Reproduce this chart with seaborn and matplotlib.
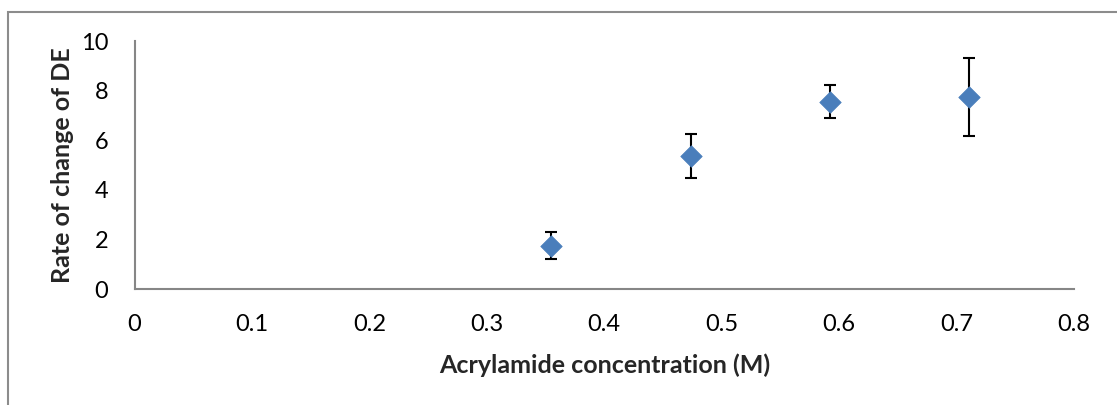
import matplotlib
matplotlib.use("Agg")
import matplotlib.pyplot as plt
import matplotlib.patches as mpatches
import seaborn as sns
import pandas as pd

# Data
acrylamide_M = [0.355, 0.474, 0.592, 0.711]
rate_de = [1.75, 5.36, 7.55, 7.75]
rate_err = [0.53, 0.90, 0.67, 1.58]
x_ticks = [0, 0.1, 0.2, 0.3, 0.4, 0.5, 0.6, 0.7, 0.8]
x_tick_labels = ["0", "0.1", "0.2", "0.3", "0.4", "0.5", "0.6", "0.7", "0.8"]
y_ticks = [0, 2, 4, 6, 8, 10]
x_title = "Acrylamide concentration (M)"
y_title = "Rate of change of DE"

sns.set_style("white")
plt.rcParams['font.family'] = ['Lato', 'DejaVu Sans']

df = pd.DataFrame({"x": acrylamide_M, "y": rate_de, "err": rate_err})

fig = plt.figure(figsize=(11.17, 4.05), dpi=100)
ax = fig.add_axes([134.5 / 1117, 1 - 289 / 405, (1074 - 134.5) / 1117, (289 - 41) / 405])

ax.errorbar(df["x"], df["y"], yerr=df["err"], fmt="none", ecolor="black",
            elinewidth=1.5, capsize=4.5, capthick=1.5, zorder=2)
sns.scatterplot(data=df, x="x", y="y", marker="D", s=120, color="#4A7EBB",
                edgecolor="#4A7EBB", linewidth=0.5, ax=ax, zorder=3)

ax.set_xlim(0, 0.8)
ax.set_ylim(0, 10)
ax.set_xticks(x_ticks)
ax.set_xticklabels(x_tick_labels)
ax.set_yticks(y_ticks)

gray = "#868686"
for side in ["top", "right"]:
    ax.spines[side].set_visible(False)
for side in ["left", "bottom"]:
    ax.spines[side].set_color(gray)
    ax.spines[side].set_linewidth(1.5)
ax.tick_params(axis="both", direction="out", length=6, width=1.5, color=gray,
               labelsize=17, labelcolor="black", pad=12)
ax.tick_params(axis="y", pad=13)

ax.set_xlabel(x_title, fontsize=18, fontweight="bold", labelpad=13)
ax.set_ylabel(y_title, fontsize=18, fontweight="bold", labelpad=5)

border = mpatches.Rectangle((8 / 1117, -0.1), 1.2, 1.1 - 12 / 405 + 0.0,
                            transform=fig.transFigure, fill=False,
                            edgecolor="#8C8C8C", linewidth=1.5, clip_on=False)
fig.patches.append(border)

fig.savefig("out.png", dpi=100)
